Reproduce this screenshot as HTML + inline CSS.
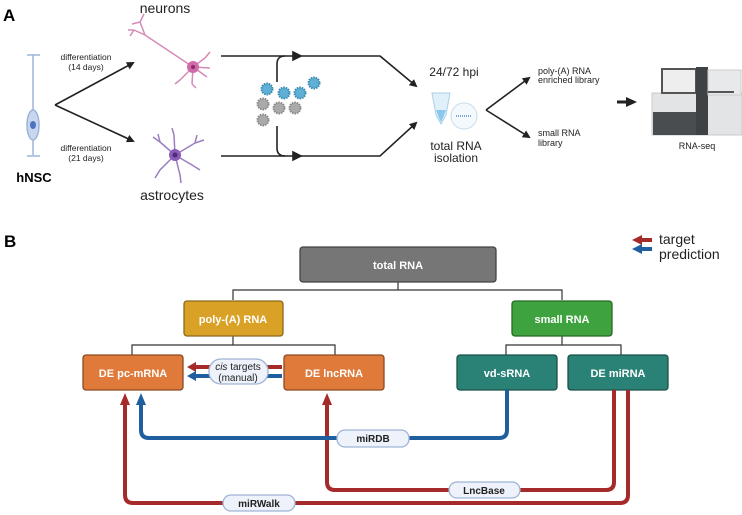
<!DOCTYPE html>
<html><head><meta charset="utf-8"><style>
body{margin:0;background:#fff}
svg{display:block;font-family:"Liberation Sans",sans-serif}
</style></head><body>
<svg width="742" height="515" viewBox="0 0 742 515" xmlns="http://www.w3.org/2000/svg">
<defs>
<marker id="ah" markerWidth="8" markerHeight="8" refX="6" refY="4" orient="auto" markerUnits="userSpaceOnUse"><path d="M0,0 L8,4 L0,8 z" fill="#222"/></marker>
</defs>
<!-- Panel A -->
<text x="3" y="21" font-size="17" font-weight="bold">A</text>
<text x="165" y="13" font-size="14" text-anchor="middle" fill="#222">neurons</text>
<text x="172" y="200" font-size="14" text-anchor="middle" fill="#222">astrocytes</text>
<text x="34" y="182" font-size="13" font-weight="bold" text-anchor="middle">hNSC</text>
<g font-size="8.5" text-anchor="middle" fill="#222">
<text x="86" y="60">differentiation</text><text x="86" y="70">(14 days)</text>
<text x="86" y="151">differentiation</text><text x="86" y="161">(21 days)</text>
</g>
<!-- hNSC cell -->
<g stroke="#9cb4d8" fill="#c9d7ee" stroke-width="1.5">
<line x1="33" y1="55" x2="33" y2="155"/>
<line x1="27" y1="55" x2="40" y2="55"/><line x1="27" y1="156" x2="40" y2="156"/>
<ellipse cx="33" cy="125" rx="6" ry="15"/>
</g>
<ellipse cx="33" cy="125" rx="3" ry="4" fill="#4d74c0"/>
<!-- arrows -->
<g stroke="#222" stroke-width="1.6" fill="none">
<path d="M55,105 L133,63" marker-end="url(#ah)"/>
<path d="M55,105 L133,141" marker-end="url(#ah)"/>
</g>
<!-- neuron -->
<g stroke="#d58ab8" stroke-width="1.5" fill="none">
<path d="M193,67 L145,35"/><path d="M145,35 L134,30 M145,35 L140,22 M140,22 L144,14 M140,22 L132,24 M134,30 L130,36 M134,30 L128,30"/>
<path d="M193,67 L205,58 M193,67 L210,68 M193,67 L207,77 M193,67 L192,84 M193,67 L180,80 M205,58 L210,52 M192,84 L196,88 M180,80 L175,84"/>
</g>
<circle cx="193" cy="67" r="6" fill="#d06aa8"/><circle cx="193" cy="67" r="2" fill="#8a2a66"/>
<!-- astrocyte -->
<g stroke="#9a7ec0" stroke-width="1.5" fill="none">
<path d="M175,155 L160,142 L153,137 M175,155 L174,135 L172,128 M175,155 L195,143 L204,140 M175,155 L192,165 L200,170 M175,155 L180,175 L181,183 M175,155 L160,170 L155,178 M160,142 L158,134 M195,143 L197,135"/>
</g>
<circle cx="175" cy="155" r="6" fill="#8a5cb8"/><circle cx="175" cy="155" r="2.5" fill="#4e2a7a"/>
<!-- infection lines -->
<g stroke="#222" stroke-width="1.6" fill="none">
<path d="M221,56 L380,56 L416,86" marker-end="url(#ah)"/>
<path d="M221,156 L380,156 L416,123" marker-end="url(#ah)"/>
<path d="M277,82 L277,64 Q277,56 285,56"/>
<path d="M277,126 L277,148 Q277,156 285,156"/>
<path d="M293,52 L301,56 L293,60z" fill="#222"/>
<path d="M293,152 L301,156 L293,160z" fill="#222"/>
</g>
<!-- viruses -->
<g stroke-width="2" stroke-dasharray="1.5 1">
<circle cx="267" cy="89" r="5.5" fill="#5fb0d6" stroke="#3a88b0"/>
<circle cx="284" cy="93" r="5.5" fill="#5fb0d6" stroke="#3a88b0"/>
<circle cx="300" cy="93" r="5.5" fill="#5fb0d6" stroke="#3a88b0"/>
<circle cx="314" cy="83" r="5.5" fill="#5fb0d6" stroke="#3a88b0"/>
<circle cx="263" cy="104" r="5.5" fill="#aaa" stroke="#888"/>
<circle cx="279" cy="108" r="5.5" fill="#aaa" stroke="#888"/>
<circle cx="295" cy="108" r="5.5" fill="#aaa" stroke="#888"/>
<circle cx="263" cy="120" r="5.5" fill="#aaa" stroke="#888"/>
</g>
<!-- RNA isolation -->
<text x="454" y="76" font-size="12" text-anchor="middle" fill="#222">24/72 hpi</text>
<path d="M432,93 L450,93 L446,115 L441,124 L436,115 z" fill="#dff0fa" stroke="#a8d0e8"/>
<path d="M436,110 L446,110 L443,118 L441,122 L439,118z" fill="#8cc8ec"/>
<circle cx="464" cy="116" r="13" fill="#f4f9fd" stroke="#c8dcea"/>
<line x1="456" y1="116" x2="472" y2="116" stroke="#4a8ac8" stroke-width="1.5" stroke-dasharray="1 1"/>
<text x="456" y="150" font-size="12" text-anchor="middle" fill="#222">total RNA</text>
<text x="456" y="162" font-size="12" text-anchor="middle" fill="#222">isolation</text>
<g stroke="#222" stroke-width="1.6" fill="none">
<path d="M486,110 L529,78" marker-end="url(#ah)"/>
<path d="M486,110 L529,137" marker-end="url(#ah)"/>
</g>
<g font-size="9" fill="#222">
<text x="538" y="74">poly-(A) RNA</text><text x="538" y="83">enriched library</text>
<text x="538" y="136">small RNA</text><text x="538" y="146">library</text>
</g>
<path d="M617,102 L628,102" stroke="#222" stroke-width="3"/><path d="M626,97 L637,102 L626,107z" fill="#222"/>
<!-- sequencer -->
<rect x="652" y="93" width="90" height="42" fill="#e2e4e6" stroke="#c8cacc"/>
<rect x="653" y="112" width="46" height="23" fill="#4a4d50"/>
<rect x="662" y="69" width="34" height="24" fill="#eee" stroke="#555" stroke-width="2"/>
<rect x="696" y="67" width="12" height="68" fill="#3f4245"/>
<rect x="708" y="70" width="33" height="25" fill="#e8e9ea" stroke="#ccc"/>
<rect x="708" y="91" width="26" height="2" fill="#555"/>
<text x="697" y="149" font-size="9" text-anchor="middle" fill="#222">RNA-seq</text>

<!-- Panel B -->
<text x="4" y="247" font-size="17" font-weight="bold">B</text>
<path d="M652,240 L640,240" stroke="#a52a2a" stroke-width="4"/><path d="M642,235 L632,240 L642,245z" fill="#a52a2a"/>
<path d="M652,249 L640,249" stroke="#1f5fa0" stroke-width="4"/><path d="M642,244 L632,249 L642,254z" fill="#1f5fa0"/>
<text x="659" y="244" font-size="14" fill="#222">target</text>
<text x="659" y="259" font-size="14" fill="#222">prediction</text>
<!-- tree lines -->
<g stroke="#333" stroke-width="1.2" fill="none">
<path d="M398,282 L398,290 M233,300 L233,290 L562,290 L562,300"/>
<path d="M233,336 L233,345 M132,355 L132,345 L335,345 L335,355"/>
<path d="M562,336 L562,345 M506,355 L506,345 L621,345 L621,355"/>
</g>
<g font-size="11" font-weight="bold" fill="#fff" text-anchor="middle">
<rect x="300" y="247" width="196" height="35" rx="3" fill="#767676" stroke="#444" stroke-width="1.3"/>
<text x="398" y="269">total RNA</text>
<rect x="184" y="301" width="99" height="35" rx="3" fill="#d9a227" stroke="#8a6a1a" stroke-width="1.3"/>
<text x="233" y="323">poly-(A) RNA</text>
<rect x="512" y="301" width="100" height="35" rx="3" fill="#3ea33e" stroke="#266a26" stroke-width="1.3"/>
<text x="562" y="323">small RNA</text>
<rect x="83" y="355" width="100" height="35" rx="3" fill="#e07a3a" stroke="#8a4a22" stroke-width="1.3"/>
<text x="133" y="377">DE pc-mRNA</text>
<rect x="284" y="355" width="100" height="35" rx="3" fill="#e07a3a" stroke="#8a4a22" stroke-width="1.3"/>
<text x="334" y="377">DE lncRNA</text>
<rect x="457" y="355" width="100" height="35" rx="3" fill="#2a8276" stroke="#1a5048" stroke-width="1.3"/>
<text x="507" y="377">vd-sRNA</text>
<rect x="568" y="355" width="100" height="35" rx="3" fill="#2a8276" stroke="#1a5048" stroke-width="1.3"/>
<text x="618" y="377">DE miRNA</text>
</g>
<!-- cis arrows -->
<path d="M282,367 L194,367" stroke="#a52a2a" stroke-width="4"/><path d="M196,362 L187,367 L196,372z" fill="#a52a2a"/>
<path d="M282,376 L194,376" stroke="#1f5fa0" stroke-width="4"/><path d="M196,371 L187,376 L196,381z" fill="#1f5fa0"/>
<rect x="209" y="359" width="59" height="25" rx="12" fill="#eef2fa" stroke="#9fb3d6" stroke-width="1.3"/>
<text x="238" y="370" font-size="10" text-anchor="middle" fill="#222"><tspan font-style="italic">cis</tspan> targets</text>
<text x="238" y="381" font-size="10" text-anchor="middle" fill="#222">(manual)</text>
<!-- long connectors -->
<g fill="none" stroke-width="4">
<path d="M614,390 L614,482 Q614,490 606,490 L335,490 Q327,490 327,482 L327,404" stroke="#a52a2a"/>
<path d="M628,390 L628,495 Q628,503 620,503 L133,503 Q125,503 125,495 L125,404" stroke="#a52a2a"/>
<path d="M507,390 L507,430 Q507,438 499,438 L149,438 Q141,438 141,430 L141,404" stroke="#1f5fa0"/>
</g>
<path d="M120,405 L125,393 L130,405z" fill="#a52a2a"/>
<path d="M322,405 L327,393 L332,405z" fill="#a52a2a"/>
<path d="M136,405 L141,393 L146,405z" fill="#1f5fa0"/>
<g font-size="10" font-weight="bold" fill="#222" text-anchor="middle">
<rect x="337" y="430" width="72" height="17" rx="8" fill="#eef2fa" stroke="#9fb3d6" stroke-width="1.3"/>
<text x="373" y="442">miRDB</text>
<rect x="449" y="482" width="71" height="16" rx="8" fill="#eef2fa" stroke="#9fb3d6" stroke-width="1.3"/>
<text x="484" y="494">LncBase</text>
<rect x="223" y="495" width="72" height="16" rx="8" fill="#eef2fa" stroke="#9fb3d6" stroke-width="1.3"/>
<text x="259" y="507">miRWalk</text>
</g>
</svg>
</body></html>
